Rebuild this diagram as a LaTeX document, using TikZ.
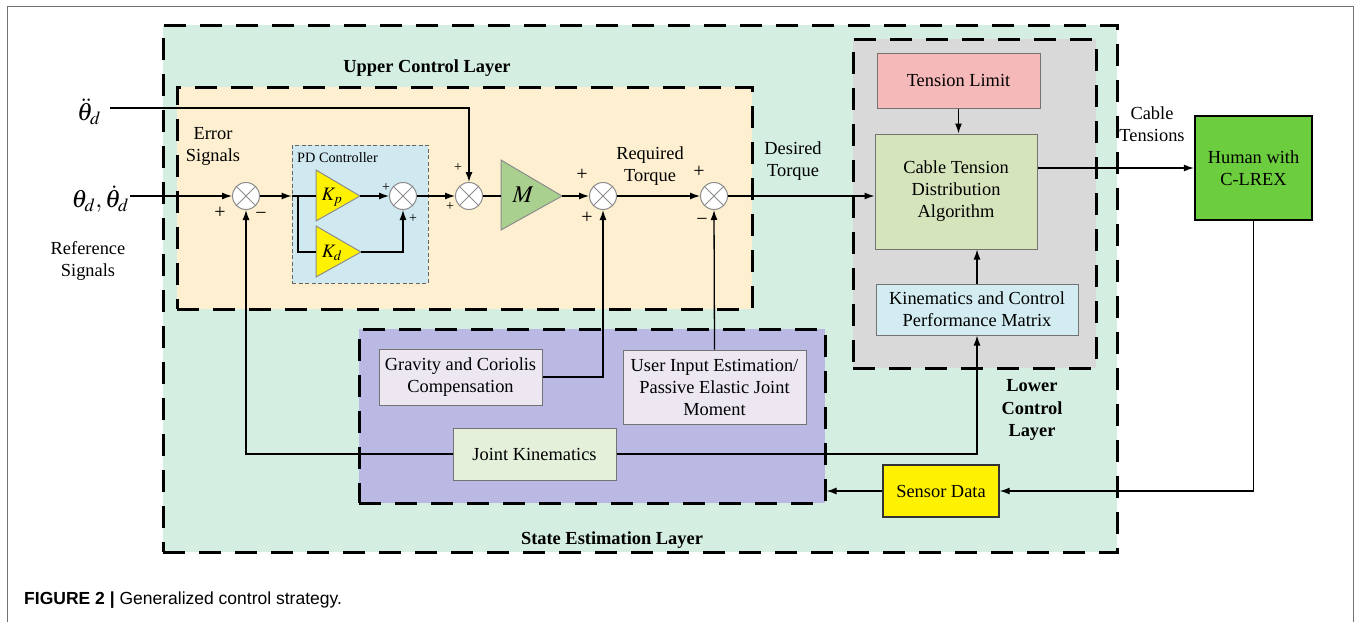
\documentclass[tikz,border=0pt]{standalone}
\usepackage{mathptmx}
\usepackage{fontspec}
\setmainfont{Liberation Serif}
\newfontfamily\capfont{Liberation Sans}
\usetikzlibrary{arrows.meta}
\newcommand\mainfs{\fontsize{18.4}{22}\selectfont}
\newcommand\smallfs{\fontsize{14.3}{17}\selectfont}
\definecolor{cgreen}{RGB}{213,238,226}
\definecolor{corange}{RGB}{253,239,207}
\definecolor{cpd}{RGB}{208,233,240}
\definecolor{cpurple}{RGB}{185,185,227}
\definecolor{cgray}{RGB}{217,217,217}
\definecolor{ctl}{RGB}{244,185,184}
\definecolor{cctda}{RGB}{214,228,188}
\definecolor{ckcpm}{RGB}{211,236,242}
\definecolor{cgrav}{RGB}{237,231,242}
\definecolor{cjk}{RGB}{228,240,218}
\definecolor{chuman}{RGB}{108,205,62}
\definecolor{cM}{RGB}{169,208,142}
\begin{document}
\begin{tikzpicture}[x=1pt,y=-1pt,
  arr/.style={line width=1.3pt,-{Latex[length=10pt,width=7pt]}},
  ln/.style={line width=1.3pt},
  box/.style={draw=black!55,line width=1pt,inner sep=0pt,align=center,font=\mainfs},
  layer/.style={draw=black,line width=3pt,dash pattern=on 22pt off 14pt,inner sep=0pt},
  sumc/.style={circle,draw=black!45,fill=white,minimum size=27pt,inner sep=0pt,line width=1pt},
  tri/.style={draw=black!45,line width=1pt},
  lbl/.style={font=\mainfs,align=center,inner sep=0pt},
  blbl/.style={font=\mainfs\bfseries,align=center,inner sep=0pt},
  bigsign/.style={font=\fontsize{20}{20}\selectfont,inner sep=0pt},
  smsign/.style={font=\fontsize{14}{14}\selectfont,inner sep=0pt}]
\useasboundingbox (0,0) rectangle (1354,621);
\fill[white] (0,0) rectangle (1354,621);
\draw[black!55,line width=1pt] (7.5,640) -- (7.5,6) -- (1353,6) -- (1353,640);

% layers
\node[layer,fill=cgreen,minimum width=954pt,minimum height=527pt] (grn) at (640,288.5) {};
\node[layer,fill=corange,minimum width=575pt,minimum height=222pt] (org) at (464.5,198) {};
\node[layer,fill=cpurple,minimum width=466pt,minimum height=174pt] (pur) at (592,416) {};
\node[layer,fill=cgray,minimum width=243pt,minimum height=329pt] (gry) at (974.5,203.5) {};
\node[draw=black!60,line width=0.8pt,dash pattern=on 4pt off 2.5pt,fill=cpd,minimum width=136pt,minimum height=138pt,inner sep=0pt] (pd) at (360,214) {};

\node[blbl] (ucl) at (427,68) {Upper Control Layer};
\node[blbl] (sel) at (612,540) {State Estimation Layer};
\node[blbl,font=\fontsize{18.4}{22.5}\selectfont\bfseries] (lcl) at (1032,410) {Lower\\Control\\Layer};
\node[anchor=west,font=\smallfs,inner sep=0pt] (pdl) at (297,158) {PD Controller};

% text labels
\node[lbl] (err) at (213,146) {Error\\Signals};
\node[lbl] (ref) at (88,261) {Reference\\Signals};
\node[lbl] (rt) at (650,166) {Required\\Torque};
\node[lbl] (dt) at (793,161) {Desired\\Torque};
\node[lbl] (ct) at (1152,124) {Cable\\Tensions};

% inputs
\node[inner sep=0pt,font=\fontsize{25}{25}\selectfont] (thdd) at (89,112) {$\ddot{\theta}_d$};
\node[inner sep=0pt,font=\fontsize{25}{25}\selectfont,anchor=east] (thd) at (129,199) {$\theta_d,\dot{\theta}_d$};
\coordinate (in1) at (130,196);
\coordinate (in2) at (110,108);

% sums
\node[sumc] (s1) at (246,196) {};
\node[sumc] (s2) at (403,196) {};
\node[sumc] (s3) at (469,196) {};
\node[sumc] (s4) at (603,196) {};
\node[sumc] (s5) at (714,196) {};
\foreach \s in {s1,s2,s3,s4,s5}{
  \draw[black!45,line width=0.8pt] (\s.north west) -- (\s.south east) (\s.north east) -- (\s.south west);}

% triangles
\coordinate (kpL) at (316,196); \coordinate (kpR) at (360,196);
\coordinate (kdL) at (316,252); \coordinate (kdR) at (361,252);
\coordinate (mL) at (501,196); \coordinate (mR) at (562,196);
\draw[tri,fill=yellow] (316,170) -- (kpR) -- (316,221) -- cycle;
\draw[tri,fill=yellow] (316,226) -- (kdR) -- (316,277) -- cycle;
\draw[tri,fill=cM] (501,160) -- (mR) -- (501,230) -- cycle;
\node[inner sep=0pt,font=\fontsize{19}{19}\selectfont] (kp) at (332,197) {$K_p$};
\node[inner sep=0pt,font=\fontsize{19}{19}\selectfont] (kd) at (332,253) {$K_d$};
\node[inner sep=0pt,font=\fontsize{24}{24}\selectfont] (mm) at (523,195) {$M$};

% boxes
\node[box,fill=ctl,minimum width=163pt,minimum height=55pt] (tl) at (958.5,80.5) {Tension Limit};
\node[box,fill=cctda,minimum width=162pt,minimum height=115pt] (ctda) at (956,191.5) {Cable Tension\\Distribution\\Algorithm};
\node[box,fill=ckcpm,minimum width=202pt,minimum height=51pt] (kcpm) at (977,309.5) {Kinematics and Control\\Performance Matrix};
\node[box,draw=black,line width=2.2pt,fill=chuman,minimum width=117pt,minimum height=104pt] (human) at (1253.5,168) {Human with\\C-LREX};
\node[box,draw=black!80,line width=1.3pt,fill=yellow,minimum width=116pt,minimum height=52pt] (sd) at (941,491) {Sensor Data};
\node[box,fill=cgrav,minimum width=163pt,minimum height=56pt] (grav) at (460.5,377) {Gravity and Coriolis\\Compensation};
\node[box,fill=cgrav,minimum width=183pt,minimum height=74pt] (uie) at (714.5,387) {User Input Estimation/\\Passive Elastic Joint\\Moment};
\node[box,fill=cjk,minimum width=163pt,minimum height=52pt] (jk) at (534.5,454) {Joint Kinematics};

% signs
\node[bigsign] (p1) at (220,213) {+};
\node[bigsign] (m1) at (261,216) {\textminus};
\node[smsign] (p2a) at (386,188) {+};
\node[smsign] (p2b) at (413,219) {+};
\node[smsign] (p3a) at (458,168) {+};
\node[smsign] (p3b) at (450,207) {+};
\node[bigsign] (p4a) at (582,175) {+};
\node[bigsign] (p4b) at (587,218) {+};
\node[bigsign] (p5a) at (699,172) {+};
\node[bigsign] (m5) at (702,222) {\textminus};

% connectors
\coordinate (br) at (298,196);
\draw[arr] (in1) -- (s1.west);
\draw[arr] (in2) -| (s3.north);
\draw[arr] (s1.east) -- (s1.east -| pd.west);
\draw[ln] (s1.east -| pd.west) -- (kpL);
\draw[ln] (br) |- (kdL);
\draw[arr] (kpR) -- (s2.west);
\draw[arr] (kdR) -| (s2.south);
\draw[arr] (s2.east) -- (s3.west);
\draw[ln] (s3.east) -- (mL);
\draw[arr] (mR) -- (s4.west);
\draw[arr] (s4.east) -- (s5.west);
\draw[arr] (s5.east) -- (s5.east -| ctda.west);
\draw[arr] (tl.south) -- (tl.south |- ctda.north);
\draw[arr] (kcpm.north) -- (kcpm.north |- ctda.south);
\draw[arr] (human.west -| ctda.east) -- (human.west);
\draw[arr] (human.south) |- (sd.east);
\draw[arr] (sd.west) -- (sd.west -| pur.east);
\draw[arr] (grav.east) -| (s4.south);
\draw[arr] (uie.north) -- (s5.south);
\draw[arr] (jk.west) -| (s1.south);
\draw[arr] (jk.east) -| (kcpm.south);

% caption
\node[anchor=west,inner sep=0pt,font=\capfont\fontsize{17.5}{20}\selectfont] (cap) at (24,600) {\textbf{FIGURE 2 |} Generalized control strategy.};
\end{tikzpicture}
\end{document}
